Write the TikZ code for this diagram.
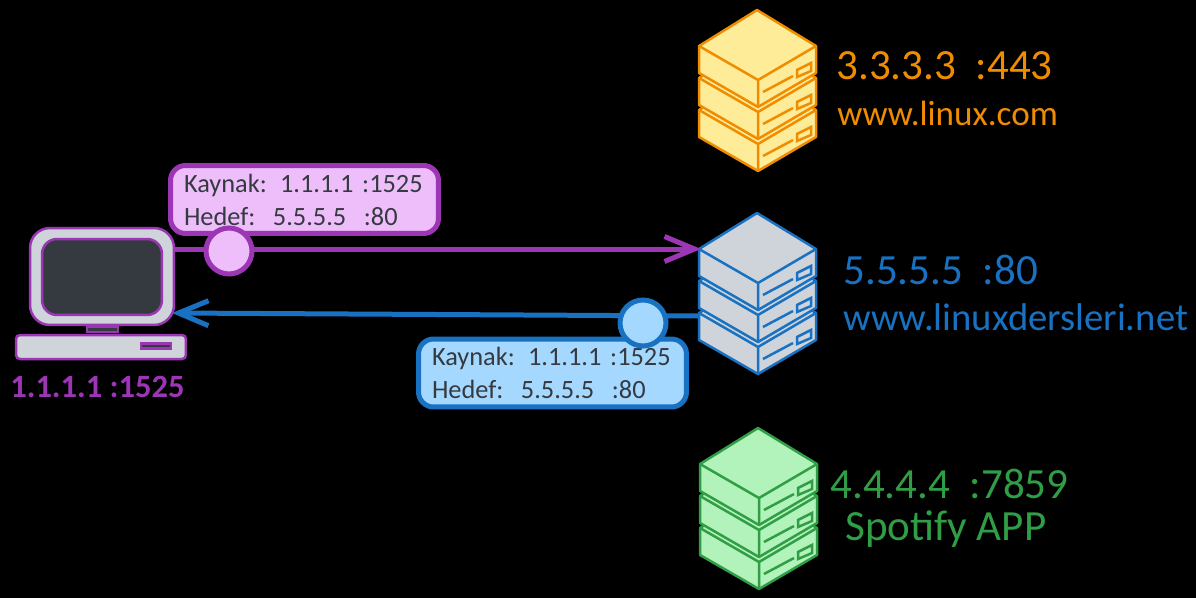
\documentclass[tikz,border=0pt]{standalone}
\usepackage{fontspec}
\setmainfont{Carlito}
\usetikzlibrary{positioning,arrows.meta}
\definecolor{inkc}{HTML}{343A40}
\definecolor{grayc}{HTML}{CED4DA}
\definecolor{purplec}{HTML}{9C36B5}
\definecolor{purplel}{HTML}{EEBEFA}
\definecolor{bluec}{HTML}{1971C2}
\definecolor{bluel}{HTML}{A5D8FF}
\definecolor{orangec}{HTML}{F08C00}
\definecolor{orangel}{HTML}{FFEC99}
\definecolor{greenc}{HTML}{2F9E44}
\definecolor{greenl}{HTML}{B2F2BB}
\tikzset{
  pics/serverstack/.style 2 args={code={
    \foreach \dy in {64,32,0} {
      \filldraw[draw=#1,fill=#2,line width=0.05cm,line join=round]
        (0,\dy) -- (59,36+\dy) -- (59,63+\dy) -- (1,97+\dy) -- (-58,63+\dy) -- (-58,36+\dy) -- cycle;
      \draw[draw=#1,line width=0.05cm,line join=round]
        (-58,36+\dy) -- (1,70+\dy) -- (59,36+\dy) (1,70+\dy) -- (1,97+\dy);
      \draw[draw=#1,line width=0.05cm]
        (6,82+\dy) -- (36,66+\dy)
        (40,60+\dy) -- (54,53+\dy) -- (54,61+\dy) -- (40,67+\dy) -- cycle;
    }
    \coordinate (-in) at (-58,36);
    \coordinate (-out) at (-58,103);
  }},
  packetbox/.style={draw,rounded corners=0.3cm,line width=0.1cm,minimum width=5.36cm,minimum height=1.36cm,
    inner sep=0pt,text width=4.82cm,align=left,text=inkc,font=\fontsize{15}{18.8}\selectfont},
  packetdot/.style={draw,circle,line width=0.1cm,minimum size=0.92cm,inner sep=0pt},
  pcpart/.style={draw=purplec,fill=grayc,line width=0.05cm,inner sep=0pt},
  pcdark/.style={draw=purplec,fill=inkc,line width=0.05cm,inner sep=0pt},
  srvlabel/.style={anchor=west,inner sep=0pt,font=\fontsize{24.5}{30}\selectfont},
  flow/.style={line width=0.1cm,shorten >=-0.04cm,-{Straight Barb[length=0.6cm,width=0.5cm]}},
}
\begin{document}
\begin{tikzpicture}[x=0.02cm,y=-0.02cm]
  \fill[black] (0,0) rectangle (1196,598);
  \useasboundingbox (0,0) rectangle (1196,598);
  % servers
  \pic (orange) at (757,10) {serverstack={orangec}{orangel}};
  \pic (blue) at (757,213) {serverstack={bluec}{grayc}};
  \pic (green) at (758,428) {serverstack={greenc}{greenl}};
  \node[srvlabel,text=orangec] (o1) at (836,66) {3.3.3.3\ \ :443};
  \node[srvlabel,text=orangec,font=\fontsize{20}{24}\selectfont] (o2) at (837,113) {www.linux.com};
  \node[srvlabel,text=bluec] (b1) at (843,270) {5.5.5.5\ \ :80};
  \node[srvlabel,text=bluec,font=\fontsize{22}{26}\selectfont] (b2) at (843,317) {www.linuxdersleri.net};
  \node[srvlabel,text=greenc] (g1) at (830,484) {4.4.4.4\ \ :7859};
  \node[srvlabel,text=greenc] (g2) at (845,529) {Spotify APP};
  % computer
  \node[pcpart,rounded corners=0.4cm,minimum width=2.88cm,minimum height=1.94cm] (pc) at (102,276.5) {};
  \node[pcdark,rounded corners=0.3cm,minimum width=2.4cm,minimum height=1.52cm] (screen) at (102,277) {};
  \node[pcdark,minimum width=0.62cm,minimum height=0.1cm] (stand) at (102.5,329.5) {};
  \node[pcpart,rounded corners=0.08cm,minimum width=3.4cm,minimum height=0.48cm] (base) at (101,347) {};
  \node[pcdark,minimum width=0.6cm,minimum height=0.1cm] (slot) at (156,346) {};
  \node[srvlabel,text=purplec,font=\fontsize{18.5}{23}\selectfont\bfseries] (pclabel) at (10,387) {1.1.1.1 :1525};
  % traffic
  \coordinate (pcin) at (174,313);
  \draw[flow,draw=purplec] (pc.east |- blue-in) -- (blue-in);
  \draw[flow,draw=bluec] (blue-out) -- (pcin);
  \node[packetbox,draw=purplec,fill=purplel] (req) at (304.5,199.5) {Kaynak: 1.1.1.1 :1525\\Hedef:\ \ 5.5.5.5\ \ :80};
  \node[packetbox,draw=bluec,fill=bluel] (res) at (552.5,373) {Kaynak: 1.1.1.1 :1525\\Hedef:\ \ 5.5.5.5\ \ :80};
  \node[packetdot,draw=purplec,fill=purplel] (reqdot) at (229,251) {};
  \node[packetdot,draw=bluec,fill=bluel] (resdot) at (643,323) {};
\end{tikzpicture}
\end{document}
